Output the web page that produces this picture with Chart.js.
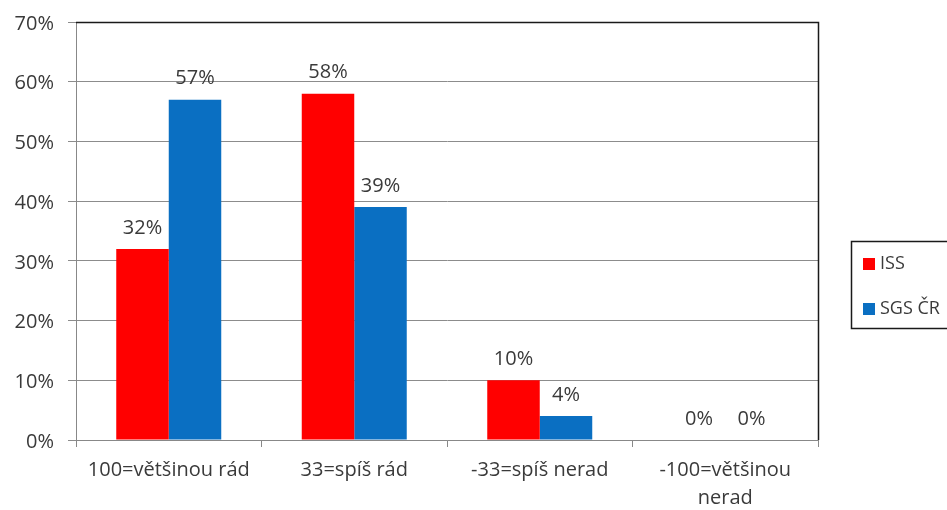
<!DOCTYPE html>
<html>
<head>
<meta charset="utf-8">
<script src="https://cdn.jsdelivr.net/npm/chart.js@4"></script>
<style>
  html, body { margin: 0; padding: 0; background: #fff; }
  #wrap { width: 947px; height: 510px; position: relative; }
</style>
</head>
<body>
<div id="wrap"><canvas id="c" width="947" height="510"></canvas></div>
<script>
// Answer categories
const categories = [
  '100=většinou rád',
  '33=spíš rád',
  '-33=spíš nerad',
  ['-100=většinou', 'nerad']
];
// Share of respondents (%) per group
const issValues = [32, 58, 10, 0];
const sgsValues = [57, 39, 4, 0];
const seriesNames = ['ISS', 'SGS ČR'];
const yTicks = [0, 10, 20, 30, 40, 50, 60, 70];

const FONT = '"Open Sans", sans-serif';
const TEXT = '#3a3a3a';
const FSIZE = 20;

// Percent labels above every bar
const valueLabels = {
  id: 'valueLabels',
  afterDatasetsDraw(chart) {
    const ctx = chart.ctx;
    ctx.save();
    ctx.font = FSIZE + 'px ' + FONT;
    ctx.fillStyle = TEXT;
    ctx.textAlign = 'center';
    ctx.textBaseline = 'middle';
    chart.data.datasets.forEach((ds, i) => {
      chart.getDatasetMeta(i).data.forEach((bar, j) => {
        ctx.fillText(ds.data[j] + '%', bar.x, bar.y - 21);
      });
    });
    ctx.restore();
  }
};

// Dark frame on the top and right of the plot area
const plotFrame = {
  id: 'plotFrame',
  afterDraw(chart) {
    const { ctx, chartArea: a } = chart;
    ctx.save();
    ctx.strokeStyle = '#1a1a1a';
    ctx.lineWidth = 1.5;
    ctx.beginPath();
    ctx.moveTo(a.left, a.top + 0.5);
    ctx.lineTo(a.right + 0.5, a.top + 0.5);
    ctx.lineTo(a.right + 0.5, a.bottom);
    ctx.stroke();
    ctx.restore();
  }
};

// Boxed legend on the right
const boxLegend = {
  id: 'boxLegend',
  afterDraw(chart) {
    const ctx = chart.ctx;
    ctx.save();
    ctx.strokeStyle = '#1a1a1a';
    ctx.lineWidth = 1.5;
    ctx.strokeRect(851.5, 241.5, 110, 87);
    ctx.font = '18px ' + FONT;
    ctx.textBaseline = 'middle';
    chart.data.datasets.forEach((ds, i) => {
      const y = 264 + i * 45;
      ctx.fillStyle = ds.backgroundColor;
      ctx.fillRect(863, y - 6, 12, 12);
      ctx.fillStyle = TEXT;
      ctx.fillText(ds.label, 880, y);
    });
    ctx.restore();
  }
};

new Chart(document.getElementById('c'), {
  type: 'bar',
  data: {
    labels: categories,
    datasets: [
      { label: seriesNames[0], data: issValues, backgroundColor: '#FF0000' },
      { label: seriesNames[1], data: sgsValues, backgroundColor: '#0A6FC2' }
    ]
  },
  options: {
    responsive: false,
    animation: false,
    devicePixelRatio: 1,
    layout: { padding: { top: 22, right: 129, left: 0, bottom: 0 } },
    plugins: { legend: { display: false }, tooltip: { enabled: false } },
    datasets: { bar: { categoryPercentage: 0.566, barPercentage: 1.0 } },
    scales: {
      x: {
        offset: true,
        grid: { offset: true, drawOnChartArea: false, drawTicks: true, tickLength: 7, color: '#888' },
        border: { color: '#888', width: 1 },
        ticks: { color: TEXT, font: { family: FONT, size: FSIZE, lineHeight: 1.4 }, padding: 9, maxRotation: 0, autoSkip: false },
        afterFit(scale) { scale.height = 70; scale.paddingLeft = 0; scale.paddingRight = 0; }
      },
      y: {
        min: 0, max: 70,
        afterBuildTicks(scale) { scale.ticks = yTicks.map(v => ({ value: v })); },
        grid: { color: '#8c8c8c', tickLength: 8 },
        border: { color: '#888', width: 1 },
        ticks: { color: TEXT, font: { family: FONT, size: FSIZE }, padding: 14, labelOffset: 2, callback: v => v + '%' },
        afterFit(scale) { scale.width = 76; scale.paddingTop = 0; scale.paddingBottom = 0; }
      }
    }
  },
  plugins: [valueLabels, plotFrame, boxLegend]
});
</script>
</body>
</html>
